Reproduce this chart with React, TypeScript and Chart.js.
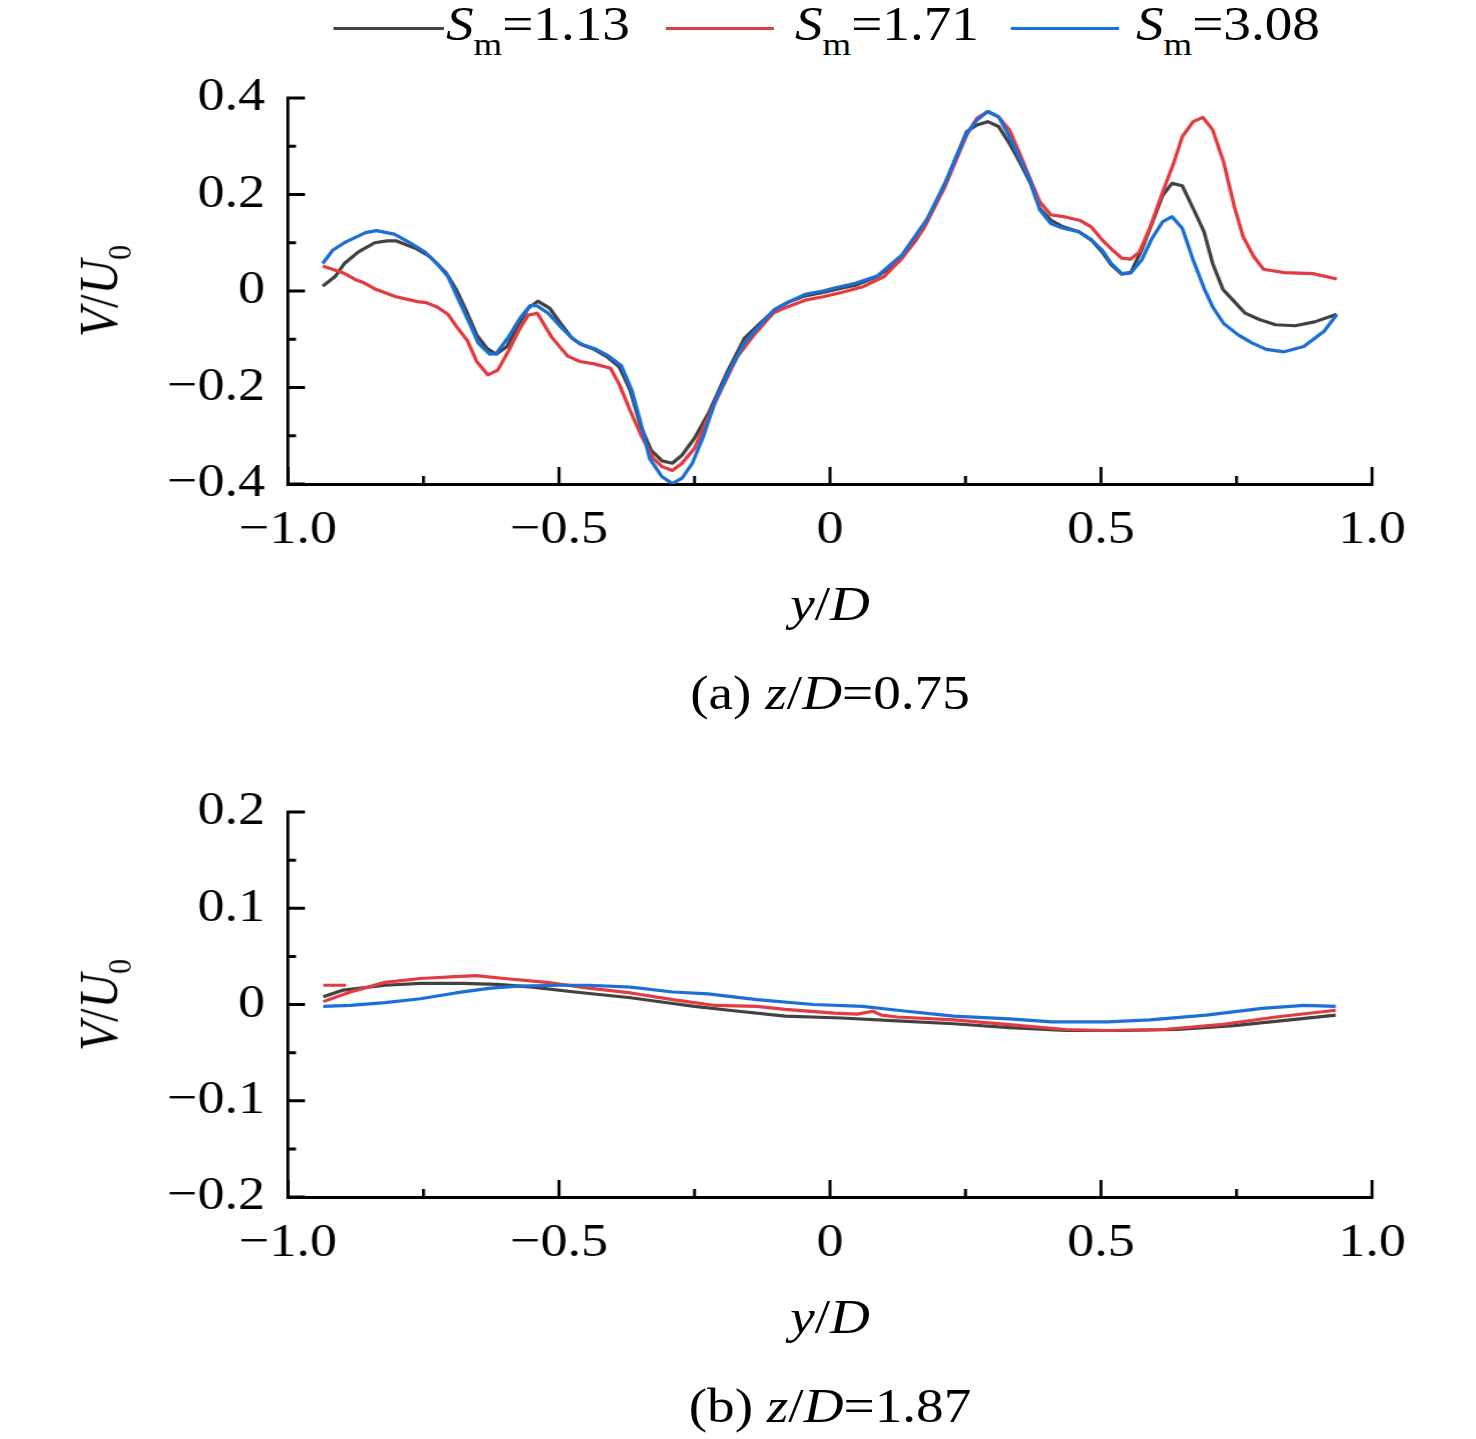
// ── V/U0 profiles at two heights, three S_m values ──────────

import { useEffect, useRef } from "react"
import Chart from "chart.js/auto"

// the original figure is a little stretched sideways, so the whole page is
// laid out narrower and scaled back out by SX
const SX          = 1.15
const PAGE_W      = 1476
const PAGE_H      = 1439
const CANVAS_W    = 1283
const PLOT_LEFT   = 288
const PLOT_RIGHT  = 1372

const FONT  = "'Liberation Serif', 'Times New Roman', Times, serif"
const GREY  = "#424242"
const RED   = "#e23c41"
const BLUE  = "#1b6fd6"

type Pt = [number, number]

// ── ticks ────────────────────────────────────────────────────
const X_MAJOR  = [-1, -0.5, 0, 0.5, 1]
const X_MINOR  = [-0.75, -0.25, 0.25, 0.75]
const YA_MAJOR = [-0.4, -0.2, 0, 0.2, 0.4]
const YA_MINOR = [-0.3, -0.1, 0.1, 0.3]
const YB_MAJOR = [-0.2, -0.1, 0, 0.1, 0.2]
const YB_MINOR = [-0.15, -0.05, 0.05, 0.15]

// ── (a) z/D = 0.75 ───────────────────────────────────────────
const A_SM113: Pt[] = [
  [-0.936, 0.010], [-0.913, 0.030], [-0.896, 0.057], [-0.870, 0.081], [-0.840, 0.100],
  [-0.817, 0.104], [-0.801, 0.104], [-0.764, 0.088], [-0.738, 0.071], [-0.708, 0.037],
  [-0.689, 0.002], [-0.672, -0.039], [-0.652, -0.091], [-0.633, -0.119], [-0.616, -0.131],
  [-0.596, -0.115], [-0.577, -0.074], [-0.557, -0.036], [-0.539, -0.021], [-0.517, -0.036],
  [-0.497, -0.067], [-0.478, -0.095], [-0.461, -0.110], [-0.435, -0.121], [-0.412, -0.136],
  [-0.389, -0.157], [-0.369, -0.205], [-0.349, -0.281], [-0.330, -0.330], [-0.310, -0.352],
  [-0.291, -0.357], [-0.273, -0.340], [-0.250, -0.305], [-0.224, -0.253], [-0.191, -0.171],
  [-0.158, -0.098], [-0.132, -0.070], [-0.102, -0.039], [-0.079, -0.024], [-0.046, -0.010],
  [-0.013, -0.003], [0.021, 0.006], [0.047, 0.012], [0.087, 0.030], [0.127, 0.061],
  [0.159, 0.106], [0.179, 0.144], [0.215, 0.230], [0.252, 0.330], [0.271, 0.344],
  [0.291, 0.351], [0.311, 0.341], [0.331, 0.306], [0.351, 0.265], [0.370, 0.223],
  [0.387, 0.171], [0.407, 0.147], [0.430, 0.133], [0.459, 0.123], [0.482, 0.106],
  [0.502, 0.081], [0.519, 0.054], [0.538, 0.035], [0.555, 0.038], [0.575, 0.085],
  [0.594, 0.140], [0.614, 0.199], [0.631, 0.223], [0.650, 0.218], [0.670, 0.171],
  [0.690, 0.123], [0.706, 0.057], [0.725, 0.003], [0.746, -0.022], [0.766, -0.046],
  [0.792, -0.059], [0.822, -0.070], [0.858, -0.072], [0.894, -0.064], [0.935, -0.048],
]

const A_SM171: Pt[] = [
  [-0.936, 0.052], [-0.899, 0.038], [-0.876, 0.024], [-0.860, 0.017], [-0.837, 0.003],
  [-0.801, -0.012], [-0.761, -0.022], [-0.745, -0.024], [-0.725, -0.033], [-0.705, -0.048],
  [-0.689, -0.074], [-0.669, -0.103], [-0.652, -0.146], [-0.631, -0.174], [-0.613, -0.164],
  [-0.593, -0.124], [-0.573, -0.079], [-0.557, -0.050], [-0.540, -0.046], [-0.514, -0.095],
  [-0.484, -0.135], [-0.461, -0.146], [-0.435, -0.151], [-0.405, -0.160], [-0.389, -0.193],
  [-0.369, -0.247], [-0.349, -0.298], [-0.326, -0.347], [-0.310, -0.364], [-0.291, -0.372],
  [-0.273, -0.357], [-0.250, -0.326], [-0.224, -0.260], [-0.198, -0.198], [-0.171, -0.136],
  [-0.138, -0.088], [-0.105, -0.046], [-0.079, -0.033], [-0.046, -0.019], [-0.013, -0.012],
  [0.021, -0.003], [0.061, 0.009], [0.100, 0.030], [0.133, 0.068], [0.173, 0.130],
  [0.212, 0.216], [0.252, 0.323], [0.271, 0.358], [0.291, 0.372], [0.311, 0.361],
  [0.331, 0.334], [0.351, 0.282], [0.370, 0.230], [0.387, 0.185], [0.407, 0.158],
  [0.436, 0.153], [0.462, 0.146], [0.482, 0.133], [0.502, 0.106], [0.522, 0.084],
  [0.538, 0.068], [0.555, 0.066], [0.571, 0.081], [0.591, 0.133], [0.614, 0.206],
  [0.634, 0.265], [0.650, 0.320], [0.670, 0.351], [0.688, 0.360], [0.706, 0.334],
  [0.726, 0.268], [0.746, 0.175], [0.762, 0.113], [0.782, 0.071], [0.800, 0.045],
  [0.838, 0.038], [0.891, 0.036], [0.935, 0.025],
]

const A_SM308: Pt[] = [
  [-0.936, 0.057], [-0.917, 0.085], [-0.893, 0.102], [-0.857, 0.121], [-0.837, 0.125],
  [-0.804, 0.118], [-0.778, 0.102], [-0.748, 0.081], [-0.725, 0.057], [-0.705, 0.030],
  [-0.685, -0.019], [-0.665, -0.067], [-0.649, -0.108], [-0.628, -0.131], [-0.616, -0.130],
  [-0.593, -0.095], [-0.570, -0.053], [-0.553, -0.030], [-0.540, -0.031], [-0.520, -0.046],
  [-0.497, -0.074], [-0.474, -0.100], [-0.455, -0.112], [-0.435, -0.119], [-0.408, -0.135],
  [-0.385, -0.155], [-0.366, -0.205], [-0.349, -0.274], [-0.333, -0.347], [-0.310, -0.385],
  [-0.291, -0.399], [-0.273, -0.388], [-0.254, -0.357], [-0.234, -0.302], [-0.211, -0.226],
  [-0.185, -0.164], [-0.158, -0.108], [-0.132, -0.074], [-0.102, -0.038], [-0.079, -0.024],
  [-0.046, -0.007], [-0.013, 0.000], [0.008, 0.006], [0.047, 0.016], [0.087, 0.031],
  [0.133, 0.075], [0.179, 0.149], [0.212, 0.223], [0.252, 0.327], [0.271, 0.354],
  [0.291, 0.372], [0.311, 0.361], [0.331, 0.320], [0.351, 0.272], [0.370, 0.227],
  [0.387, 0.168], [0.407, 0.140], [0.430, 0.130], [0.459, 0.123], [0.482, 0.106],
  [0.502, 0.085], [0.519, 0.057], [0.538, 0.036], [0.555, 0.038], [0.575, 0.064],
  [0.594, 0.109], [0.614, 0.144], [0.631, 0.154], [0.650, 0.130], [0.670, 0.064],
  [0.690, 0.006], [0.706, -0.033], [0.726, -0.067], [0.753, -0.091], [0.779, -0.108],
  [0.805, -0.121], [0.838, -0.126], [0.874, -0.115], [0.911, -0.084], [0.935, -0.049],
]

// ── (b) z/D = 1.87 ───────────────────────────────────────────
const B_SM113: Pt[] = [
  [-0.935, 0.008], [-0.898, 0.015], [-0.821, 0.020], [-0.756, 0.022], [-0.678, 0.022],
  [-0.614, 0.021], [-0.549, 0.018], [-0.471, 0.013], [-0.368, 0.007], [-0.290, 0.001],
  [-0.250, -0.002], [-0.186, -0.006], [-0.083, -0.012], [0.021, -0.014], [0.124, -0.017],
  [0.228, -0.020], [0.331, -0.024], [0.435, -0.027], [0.538, -0.027], [0.642, -0.026],
  [0.745, -0.022], [0.849, -0.016], [0.933, -0.011],
]

const B_SM171: Pt[] = [
  [-0.935, 0.003], [-0.885, 0.013], [-0.821, 0.023], [-0.756, 0.027], [-0.691, 0.029],
  [-0.653, 0.030], [-0.601, 0.027], [-0.523, 0.023], [-0.445, 0.017], [-0.368, 0.012],
  [-0.290, 0.005], [-0.212, -0.001], [-0.135, -0.002], [-0.083, -0.005], [0.008, -0.009],
  [0.050, -0.010], [0.079, -0.007], [0.095, -0.011], [0.124, -0.013], [0.228, -0.016],
  [0.331, -0.021], [0.435, -0.026], [0.512, -0.027], [0.616, -0.026], [0.720, -0.021],
  [0.823, -0.013], [0.933, -0.006],
]

// short stray red segment at the left edge of (b)
const B_SM171_STUB: Pt[] = [[-0.935, 0.020], [-0.893, 0.020]]

const B_SM308: Pt[] = [
  [-0.935, -0.002], [-0.885, -0.001], [-0.821, 0.002], [-0.756, 0.006], [-0.691, 0.012],
  [-0.626, 0.017], [-0.575, 0.019], [-0.497, 0.020], [-0.445, 0.020], [-0.368, 0.018],
  [-0.290, 0.013], [-0.225, 0.011], [-0.135, 0.005], [-0.031, 0.000], [0.060, -0.002],
  [0.124, -0.006], [0.228, -0.012], [0.331, -0.015], [0.409, -0.018], [0.512, -0.018],
  [0.590, -0.016], [0.694, -0.011], [0.797, -0.004], [0.875, -0.001], [0.933, -0.002],
]

const fmt = (v: number) => {
  if (Math.abs(v) < 1e-9) return "0"
  return (v < 0 ? "\u2212" : "") + Math.abs(v).toFixed(1)
}

// inward major / minor tick marks (chart.js has no minor ticks)
const innerTicks = {
  id: "innerTicks",
  afterDraw(chart: any, _args: unknown, opts: any) {
    const { ctx, chartArea: { left, bottom } } = chart
    const xs = chart.scales.x
    const ys = chart.scales.y
    ctx.save()
    ctx.strokeStyle = "#000"
    ctx.lineCap = "butt"

    ctx.lineWidth = 2.6
    ctx.beginPath()
    const xMark = (vals: number[], len: number) => vals.forEach(v => {
      const p = xs.getPixelForValue(v)
      ctx.moveTo(p, bottom + 1.5)
      ctx.lineTo(p, bottom - len)
    })
    xMark(opts.xMajor, 17)
    xMark(opts.xMinor, 8)
    ctx.stroke()

    ctx.lineWidth = 3
    ctx.beginPath()
    const yMark = (vals: number[], len: number) => vals.forEach(v => {
      const p = ys.getPixelForValue(v)
      ctx.moveTo(left - 1.3, p)
      ctx.lineTo(left + len / SX, p)
    })
    yMark(opts.yMajor, 17)
    yMark(opts.yMinor, 8)
    ctx.stroke()
    ctx.restore()
  },
}

type Series = { pts: Pt[]; color: string; order: number }

type PanelProps = {
  top: number
  height: number
  plotTop: number
  plotBottom: number
  yMin: number
  yMax: number
  yStep: number
  yMajor: number[]
  yMinor: number[]
  series: Series[]
}

function Panel({ top, height, plotTop, plotBottom, yMin, yMax, yStep, yMajor, yMinor, series }: PanelProps) {
  const ref = useRef<HTMLCanvasElement>(null)

  useEffect(() => {
    if (!ref.current) return

    const tickFont = { family: FONT, size: 47 }

    const chart = new Chart(ref.current, {
      type: "line",
      data: {
        datasets: series.map(s => ({
          data: s.pts.map(([x, y]) => ({ x, y })),
          borderColor: s.color,
          borderWidth: 3.2,
          borderJoinStyle: "round" as const,
          pointRadius: 0,
          fill: false,
          tension: 0,
          order: s.order,
        })),
      },
      options: {
        animation: false,
        responsive: false,
        devicePixelRatio: 1,
        events: [],
        layout: {
          padding: { top: plotTop - top, right: CANVAS_W - PLOT_RIGHT / SX, left: 0, bottom: 0 },
        },
        plugins: {
          legend: { display: false },
          tooltip: { enabled: false },
          innerTicks: { xMajor: X_MAJOR, xMinor: X_MINOR, yMajor, yMinor },
        } as any,
        scales: {
          x: {
            type: "linear",
            min: -1,
            max: 1,
            afterFit: (s: any) => { s.height = height - (plotBottom - top) },
            grid: { display: false, drawTicks: false },
            border: { display: true, color: "#000", width: 3 },
            ticks: {
              stepSize: 0.5,
              autoSkip: false,
              maxRotation: 0,
              padding: 18,
              color: "#000",
              font: tickFont,
              callback: (v: any) => fmt(Number(v)),
            },
          },
          y: {
            type: "linear",
            min: yMin,
            max: yMax,
            afterFit: (s: any) => { s.width = PLOT_LEFT / SX },
            grid: { display: false, drawTicks: false },
            border: { display: true, color: "#000", width: 2.6 },
            ticks: {
              stepSize: yStep,
              autoSkip: false,
              padding: 20,
              color: "#000",
              font: tickFont,
              callback: (v: any) => fmt(Number(v)),
            },
          },
        },
      },
      plugins: [innerTicks],
    })

    return () => chart.destroy()
  }, [])

  return (
    <canvas
      ref={ref}
      width={CANVAS_W}
      height={height}
      style={{ position: "absolute", left: 0, top, width: CANVAS_W, height }}
    />
  )
}

// text placed by its baseline, x given in page pixels
function Txt({ x, base, size = 48, center = true, children }:
  { x: number; base: number; size?: number; center?: boolean; children: React.ReactNode }) {
  return (
    <div style={{
      position: "absolute",
      left: x / SX,
      top: base - 0.8375 * size,
      fontSize: size,
      lineHeight: 1,
      whiteSpace: "nowrap",
      transform: center ? "translateX(-50%)" : undefined,
    }}>
      {children}
    </div>
  )
}

function Sub({ children, size = 32, drop = 15 }: { children: React.ReactNode; size?: number; drop?: number }) {
  return <span style={{ fontSize: size, verticalAlign: -drop, lineHeight: 0 }}>{children}</span>
}

function YTitle({ cy }: { cy: number }) {
  return (
    <div style={{
      position: "absolute",
      left: 99 / SX,
      top: cy,
      fontSize: 48,
      lineHeight: 1,
      whiteSpace: "nowrap",
      transform: "translate(-50%, -50%) rotate(-90deg)",
    }}>
      <i>V</i>/<i>U</i><Sub size={30} drop={12}>0</Sub>
    </div>
  )
}

function LegendItem({ x1, x2, tx, color, label }: { x1: number; x2: number; tx: number; color: string; label: string }) {
  return (
    <>
      <div style={{
        position: "absolute",
        left: x1 / SX,
        top: 27,
        width: (x2 - x1) / SX,
        height: 3,
        background: color,
      }} />
      <Txt x={tx} base={40} center={false}>
        <i>S</i><Sub>m</Sub>={label}
      </Txt>
    </>
  )
}

export default function App() {
  return (
    <div style={{
      position: "absolute",
      left: 0,
      top: 0,
      width: PAGE_W / SX,
      height: PAGE_H,
      background: "#fff",
      color: "#000",
      fontFamily: FONT,
      transform: `scaleX(${SX})`,
      transformOrigin: "0 0",
      overflow: "hidden",
    }}>
      <LegendItem x1={333} x2={444} tx={446} color={GREY} label="1.13" />
      <LegendItem x1={666} x2={774} tx={795} color={RED}  label="1.71" />
      <LegendItem x1={1011} x2={1119} tx={1136} color={BLUE} label="3.08" />

      <Panel
        top={38} height={522} plotTop={98} plotBottom={484}
        yMin={-0.4} yMax={0.4} yStep={0.2} yMajor={YA_MAJOR} yMinor={YA_MINOR}
        series={[
          { pts: A_SM113, color: GREY, order: 2 },
          { pts: A_SM171, color: RED,  order: 1 },
          { pts: A_SM308, color: BLUE, order: 0 },
        ]}
      />
      <YTitle cy={291} />
      <Txt x={830} base={620}><i>y</i>/<i>D</i></Txt>
      <Txt x={830} base={709}>(a) <i>z</i>/<i>D</i>=0.75</Txt>

      <Panel
        top={752} height={518} plotTop={812} plotBottom={1197}
        yMin={-0.2} yMax={0.2} yStep={0.1} yMajor={YB_MAJOR} yMinor={YB_MINOR}
        series={[
          { pts: B_SM113, color: GREY, order: 2 },
          { pts: B_SM171, color: RED,  order: 1 },
          { pts: B_SM171_STUB, color: RED, order: 1 },
          { pts: B_SM308, color: BLUE, order: 0 },
        ]}
      />
      <YTitle cy={1005} />
      <Txt x={830} base={1333}><i>y</i>/<i>D</i></Txt>
      <Txt x={830} base={1422}>(b) <i>z</i>/<i>D</i>=1.87</Txt>
    </div>
  )
}
